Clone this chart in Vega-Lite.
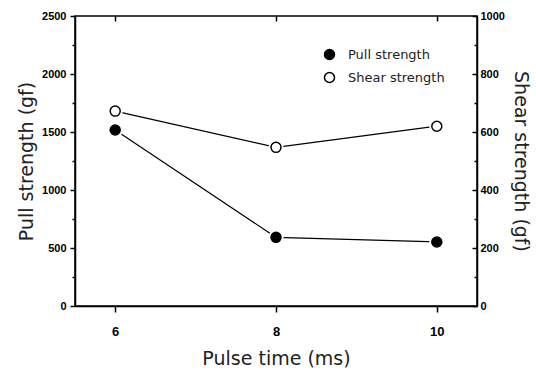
{
  "$schema": "https://vega.github.io/schema/vega-lite/v6.json",
  "width": 402,
  "height": 290,
  "autosize": {"type": "none"},
  "padding": {"left": 75, "top": 16, "right": 59, "bottom": 69},
  "background": "white",
  "config": {
    "view": {"stroke": "black", "strokeWidth": 1.5},
    "axis": {
      "domainColor": "black",
      "domainWidth": 1.5,
      "tickColor": "black",
      "tickWidth": 1.5,
      "grid": false,
      "labelFont": "Liberation Sans",
      "labelFontWeight": "bold",
      "labelColor": "black",
      "titleFont": "DejaVu Sans",
      "titleFontWeight": "normal",
      "titleFontSize": 19,
      "titleColor": "#222"
    }
  },
  "data": {
    "values": [
      {"time": 6, "pull": 1517, "shear": 672},
      {"time": 8, "pull": 592, "shear": 547},
      {"time": 10, "pull": 552, "shear": 620}
    ]
  },
  "layer": [
    {
      "encoding": {
        "x": {
          "field": "time", "type": "quantitative",
          "scale": {"domain": [5.5, 10.5], "nice": false, "zero": false},
          "axis": {"title": "Pulse time (ms)", "values": [6, 8, 10], "format": "d", "tickSize": 6, "labelPadding": 13, "labelFontSize": 13, "titlePadding": 11}
        },
        "y": {
          "field": "pull", "type": "quantitative",
          "scale": {"domain": [0, 2500], "nice": false},
          "axis": {
            "title": "Pull strength (gf)",
            "values": [0, 250, 500, 750, 1000, 1250, 1500, 1750, 2000, 2250, 2500],
            "format": "d",
            "labelExpr": "datum.value % 500 === 0 ? datum.label : ''",
            "tickSize": {"expr": "datum.value % 500 === 0 ? 5 : 3"},
            "labelPadding": 4,
            "labelFontSize": 11,
            "titlePadding": 5
          }
        }
      },
      "layer": [
        {"mark": {"type": "line", "color": "black", "strokeWidth": 1.2}},
        {"mark": {"type": "point", "shape": "circle", "filled": true, "color": "white", "size": 230, "opacity": 1}},
        {
          "mark": {"type": "point", "shape": "circle", "filled": true, "stroke": "black", "strokeWidth": 1.5, "size": 100, "opacity": 1},
          "encoding": {
            "fill": {
              "datum": "Pull strength",
              "scale": {"domain": ["Pull strength", "Shear strength"], "range": ["black", "white"]},
              "legend": {
                "title": null, "orient": "none", "legendX": 248, "legendY": 32,
                "symbolType": "circle", "symbolSize": 100, "symbolStrokeColor": "black", "symbolStrokeWidth": 1.5,
                "labelFont": "DejaVu Sans", "labelFontSize": 13, "labelColor": "#222", "labelOffset": 12, "rowPadding": 6
              }
            }
          }
        }
      ]
    },
    {
      "encoding": {
        "x": {
          "field": "time", "type": "quantitative",
          "scale": {"domain": [5.5, 10.5], "nice": false, "zero": false},
          "axis": {"orient": "top", "title": null, "values": [6, 8, 10], "labels": false, "tickSize": -5, "domain": false}
        },
        "y": {
          "field": "shear", "type": "quantitative",
          "scale": {"domain": [0, 1000], "nice": false},
          "axis": {
            "orient": "right",
            "title": "Shear strength (gf)",
            "values": [0, 100, 200, 300, 400, 500, 600, 700, 800, 900, 1000],
            "format": "d",
            "labelExpr": "datum.value % 200 === 0 ? datum.label : ''",
            "tickSize": {"expr": "datum.value % 200 === 0 ? -5 : -3"},
            "labelPadding": 8,
            "labelFontSize": 11,
            "titlePadding": 6
          }
        }
      },
      "layer": [
        {"mark": {"type": "line", "color": "black", "strokeWidth": 1.2}},
        {"mark": {"type": "point", "shape": "circle", "filled": true, "color": "white", "size": 230, "opacity": 1}},
        {
          "mark": {"type": "point", "shape": "circle", "filled": true, "stroke": "black", "strokeWidth": 1.5, "size": 100, "opacity": 1},
          "encoding": {
            "fill": {"datum": "Shear strength"}
          }
        }
      ]
    }
  ],
  "resolve": {"scale": {"y": "independent"}, "axis": {"x": "independent"}}
}
